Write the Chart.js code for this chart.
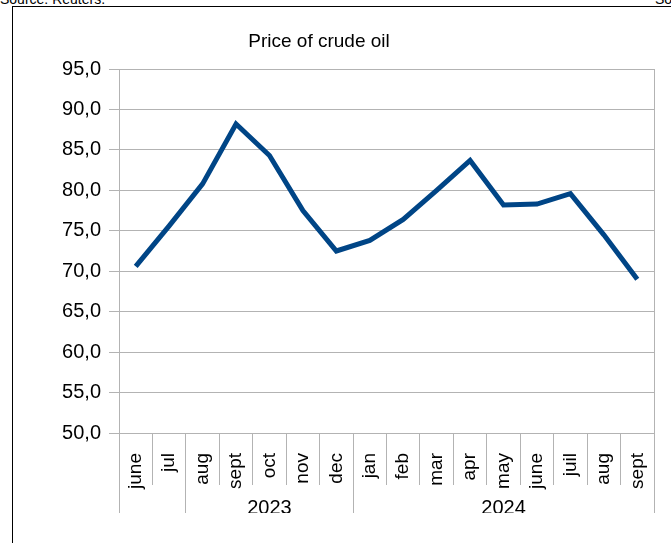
<!DOCTYPE html>
<html>
<head>
<meta charset="utf-8">
<script src="https://cdn.jsdelivr.net/npm/chart.js@4"></script>
<style>
  body { margin: 0; background: #fff; overflow: hidden; }
  #wrap { position: relative; width: 671px; height: 543px; }
  .cadre { position: absolute; left: 12px; top: 6px; width: 700px; height: 600px; border: 1px solid #000; }
  .source { position: absolute; top: -9px; font: 14px 'Liberation Sans', Arial, sans-serif; color: #000; white-space: nowrap; }
  canvas { position: absolute; left: 0; top: 0; }
</style>
</head>
<body>
<div id="wrap">
  <div class="source" style="left:0">Source: Reuters.</div>
  <div class="source" style="left:655px">Source</div>
  <div class="cadre"></div>
  <canvas id="grafica" width="671" height="543"></canvas>
</div>
<script>
// Datos
const meses = ['june', 'jul', 'aug', 'sept', 'oct', 'nov', 'dec', 'jan', 'feb', 'mar', 'apr', 'may', 'june', 'juil', 'aug', 'sept'];
const precios = [70.6, 75.6, 80.8, 88.2, 84.3, 77.5, 72.5, 73.8, 76.4, 80.0, 83.7, 78.2, 78.3, 79.6, 74.5, 69.0];
const anios = ['2023', '2024'];
const inicioAnio = [2, 7]; // primer mes de cada grupo
const titulo = 'Price of crude oil';

const gris = '#b3b3b3';
const fuente = "'Liberation Sans', Arial, sans-serif";

// etiquetas del segundo nivel: el año va en el mes central del grupo
const etiquetasAnio = meses.map(() => '');
const lineasGrupo = [0, meses.length];
inicioAnio.forEach((ini, i) => {
    const fin = i + 1 < inicioAnio.length ? inicioAnio[i + 1] - 1 : meses.length - 1;
    etiquetasAnio[Math.round((ini + fin) / 2)] = anios[i];
    lineasGrupo.push(ini);
});

const tituloPlugin = {
    id: 'tituloPlugin',
    afterDraw(chart) {
        const ctx = chart.ctx;
        ctx.save();
        ctx.font = '19px ' + fuente;
        ctx.fillStyle = '#000';
        ctx.textAlign = 'center';
        ctx.textBaseline = 'middle';
        ctx.fillText(titulo, 319, 42);
        ctx.restore();
    }
};

const ctx = document.getElementById('grafica').getContext('2d');
new Chart(ctx, {
    type: 'line',
    data: {
        labels: meses,
        datasets: [{
            label: titulo,
            data: precios,
            borderColor: '#004586',
            backgroundColor: '#004586',
            borderWidth: 5,
            pointRadius: 0,
            tension: 0,
            xAxisID: 'x',
            yAxisID: 'y'
        }]
    },
    options: {
        responsive: false,
        animation: false,
        devicePixelRatio: 1,
        layout: { padding: { left: 0, right: 17, top: 69, bottom: 30 } },
        plugins: {
            legend: { display: false },
            tooltip: { enabled: false }
        },
        scales: {
            x: {
                type: 'category',
                offset: true,
                position: 'bottom',
                grid: {
                    offset: true,
                    drawOnChartArea: false,
                    drawTicks: true,
                    tickLength: 52,
                    color: gris
                },
                border: { color: gris },
                ticks: {
                    autoSkip: false,
                    minRotation: 90,
                    maxRotation: 90,
                    padding: -32,
                    color: '#000',
                    font: { family: fuente, size: 19 }
                },
                afterFit: (s) => {
                    s.height = 52;
                    // las etiquetas pasan del borde del eje, sin recorte
                    s._computeLabelArea = () => null;
                }
            },
            x2: {
                type: 'category',
                labels: etiquetasAnio,
                offset: true,
                position: 'bottom',
                grid: {
                    offset: true,
                    drawOnChartArea: false,
                    drawTicks: true,
                    tickLength: 28,
                    color: (c) => (c.type !== 'tick' || lineasGrupo.includes(c.index)) ? gris : 'rgba(0,0,0,0)'
                },
                border: { display: false },
                ticks: {
                    autoSkip: false,
                    maxRotation: 0,
                    minRotation: 0,
                    padding: -17,
                    color: '#000',
                    font: { family: fuente, size: 20 }
                },
                afterFit: (s) => { s.height = 28; }
            },
            y: {
                min: 50,
                max: 95,
                position: 'left',
                grid: { color: gris, tickLength: 10, drawTicks: true },
                border: { color: gris },
                ticks: {
                    stepSize: 5,
                    padding: 8,
                    color: '#000',
                    font: { family: fuente, size: 20 },
                    callback: (v) => v.toFixed(1).replace('.', ',')
                },
                afterFit: (s) => { s.width = 119; }
            },
            yDer: {
                min: 50,
                max: 95,
                position: 'right',
                grid: { drawOnChartArea: false, drawTicks: false },
                border: { color: gris },
                ticks: { display: false },
                afterFit: (s) => { s.width = 0; }
            }
        }
    },
    plugins: [tituloPlugin]
});
</script>
</body>
</html>
